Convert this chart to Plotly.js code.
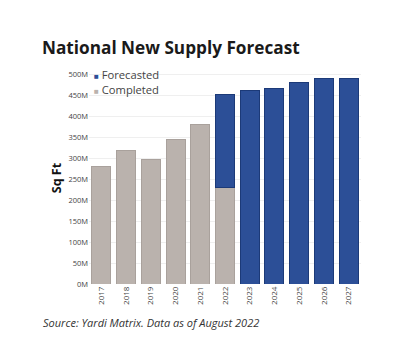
<!DOCTYPE html>
<html>
<head>
<meta charset="utf-8">
<script src="https://cdn.plot.ly/plotly-3.0.1.min.js"></script>
<style>html,body{margin:0;padding:0;background:#fff;}#chart{width:400px;height:345px;}</style>
</head>
<body>
<div id="chart"></div>
<script>
var years = ['2017','2018','2019','2020','2021','2022','2023','2024','2025','2026','2027'];
var completedYears = ['2017','2018','2019','2020','2021','2022'];
var completed = [279, 318, 296, 345, 380, 230];
var forecastYears = ['2022','2023','2024','2025','2026','2027'];
var forecasted = [222, 460, 465, 480, 489, 490];
var yTicks = [0,50,100,150,200,250,300,350,400,450,500];
var yTickText = ['0M','50M','100M','150M','200M','250M','300M','350M','400M','450M','500M'];
var seriesNames = ['Forecasted','Completed'];
var seriesColors = ['#2c4f97','#bab2ad'];

var traces = [
  {type:'bar', name:seriesNames[1], x:completedYears, y:completed, showlegend:false,
   marker:{color:seriesColors[1], line:{color:'#a9a19c', width:1}}},
  {type:'bar', name:seriesNames[0], x:forecastYears, y:forecasted, showlegend:false,
   marker:{color:seriesColors[0], line:{color:'#1c3a78', width:1}}}
];
var FONT = '"Open Sans", sans-serif';
var legendText = seriesNames.map(function(n, i){
  return '<span style="color:'+seriesColors[i]+';font-size:8px">■</span> '+n;
}).join('<br>');
var layout = {
  width:400, height:345,
  paper_bgcolor:'#fff', plot_bgcolor:'#fff',
  margin:{l:89, r:39, t:72, b:61},
  barmode:'stack', bargap:0.23,
  font:{family:FONT, color:'#444'},
  title:{text:'<b>National New Supply Forecast</b>', x:0.105, xanchor:'left', y:0.86, yanchor:'middle',
         font:{size:17.2, color:'#1a1a1a', family:FONT}},
  xaxis:{type:'category', categoryorder:'array', categoryarray:years, tickangle:-90,
         tickfont:{size:8, color:'#444', family:FONT}, showgrid:false, zeroline:false, showline:false, ticks:''},
  yaxis:{range:[0,505], tickvals:yTicks, ticktext:yTickText,
         tickfont:{size:7.5, color:'#444', family:FONT},
         showgrid:true, gridcolor:'#efefef', gridwidth:1, zeroline:false, showline:false,
         title:{text:'<b>Sq Ft</b>', font:{size:12.5, color:'#111', family:FONT}, standoff:4}},
  showlegend:false,
  annotations:[
    {text:legendText, align:'left', xref:'paper', yref:'paper', x:0.012, y:0.955,
     xanchor:'left', yanchor:'middle', showarrow:false, font:{size:11.2, color:'#444', family:FONT}},
    {text:'<i>Source: Yardi Matrix. Data as of August 2022</i>', xref:'paper', yref:'paper',
     x:-0.175, y:-0.18, xanchor:'left', yanchor:'middle', showarrow:false,
     font:{size:11, color:'#333', family:FONT}}]
};
Plotly.newPlot('chart', traces, layout, {displayModeBar:false, staticPlot:true});
</script>
</body>
</html>
